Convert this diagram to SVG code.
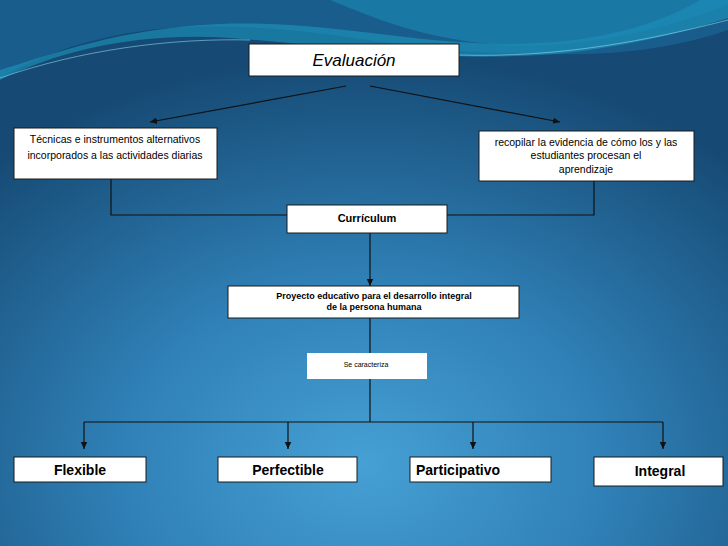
<svg xmlns="http://www.w3.org/2000/svg" width="728" height="546" viewBox="0 0 728 546">
<defs>
<radialGradient id="bg" cx="0.5" cy="0.85" r="0.75">
<stop offset="0" stop-color="#46a0d4"/>
<stop offset="0.45" stop-color="#2f80b6"/>
<stop offset="1" stop-color="#164a74"/>
</radialGradient>
<marker id="ah" markerWidth="8" markerHeight="8" refX="7" refY="4" orient="auto" markerUnits="userSpaceOnUse">
<path d="M0,0.8 L7,4 L0,7.2 Z" fill="#111"/>
</marker>
<style>
.box{fill:#fff;stroke:#1a1a1a;stroke-width:1}
.con{stroke:#111;stroke-width:1.2;fill:none}
.t{font-family:"Liberation Sans",Arial,sans-serif;fill:#000;text-anchor:middle}
.b{font-weight:bold}
</style>
</defs>
<rect width="728" height="546" fill="url(#bg)"/>
<path d="M0,0 H728 V30 C640,60 560,55 480,52 C380,48 300,20 170,28 C90,34 30,60 0,78 Z" fill="#1a5f8f" opacity="0.9"/>
<path d="M0,80 C60,50 140,32 230,38 C330,45 420,62 540,55 C620,50 690,30 728,18 V0 H700 C650,30 580,45 500,44 C400,42 320,20 220,24 C120,28 50,55 0,70 Z" fill="#1d9ec4" opacity="0.55"/>
<path d="M330,0 C380,20 420,38 500,45 C580,50 660,30 728,5 V0 Z" fill="#1b8ab5" opacity="0.6"/>
<path d="M0,78 C80,50 170,38 250,40" stroke="#8fe0f0" stroke-width="0.8" fill="none" opacity="0.7"/>
<path d="M459,55 C560,58 650,40 728,20" stroke="#8fe0f0" stroke-width="0.8" fill="none" opacity="0.7"/>
<g id="connectors">
<line class="con" x1="346" y1="86" x2="150" y2="122" marker-end="url(#ah)"/>
<line class="con" x1="370" y1="86" x2="560" y2="122" marker-end="url(#ah)"/>
<polyline class="con" points="111,179 111,215 287,215"/>
<polyline class="con" points="594,181 594,215 447,215"/>
<line class="con" x1="370" y1="233" x2="370" y2="286" marker-end="url(#ah)"/>
<line class="con" x1="370" y1="318" x2="370" y2="353"/>
<line class="con" x1="370" y1="379" x2="370" y2="422"/>
<line class="con" x1="84" y1="422" x2="663" y2="422"/>
<line class="con" x1="84" y1="422" x2="84" y2="449" marker-end="url(#ah)"/>
<line class="con" x1="288" y1="422" x2="288" y2="449" marker-end="url(#ah)"/>
<line class="con" x1="473" y1="422" x2="473" y2="449" marker-end="url(#ah)"/>
<line class="con" x1="663" y1="422" x2="663" y2="449" marker-end="url(#ah)"/>
</g>
<g id="evaluacion">
<rect class="box" x="249" y="44" width="210" height="32"/>
<text class="t" x="354" y="66" font-size="17" font-style="italic">Evaluación</text>
</g>
<g id="tecnicas">
<rect class="box" x="14" y="128" width="203" height="51"/>
<text class="t" x="115" y="143" font-size="10.5">Técnicas e instrumentos alternativos</text>
<text class="t" x="115" y="159" font-size="10.5">incorporados a las actividades diarias</text>
</g>
<g id="recopilar">
<rect class="box" x="479" y="131" width="215" height="50"/>
<text class="t" x="586" y="146" font-size="10.5">recopilar la evidencia de cómo los y las</text>
<text class="t" x="586" y="159" font-size="10.5">estudiantes procesan el</text>
<text class="t" x="586" y="173" font-size="10.5">aprendizaje</text>
</g>
<g id="curriculum">
<rect class="box" x="287" y="205" width="160" height="28"/>
<text class="t b" x="367" y="222" font-size="11">Currículum</text>
</g>
<g id="proyecto">
<rect class="box" x="228" y="286" width="291" height="32"/>
<text class="t b" x="374" y="299" font-size="9">Proyecto educativo  para el desarrollo integral</text>
<text class="t b" x="374" y="310" font-size="9">de la persona humana</text>
</g>
<g id="secaracteriza">
<rect x="307" y="353" width="120" height="26" fill="#fff"/>
<text class="t" x="366" y="367" font-size="7">Se caracteriza</text>
</g>
<g id="flexible">
<rect class="box" x="14" y="457" width="132" height="25"/>
<text class="t b" x="80" y="475" font-size="14">Flexible</text>
</g>
<g id="perfectible">
<rect class="box" x="218" y="457" width="139" height="25"/>
<text class="t b" x="288" y="475" font-size="14">Perfectible</text>
</g>
<g id="participativo">
<rect class="box" x="410" y="457" width="141" height="25"/>
<text class="t b" x="416" y="475" font-size="14" style="text-anchor:start">Participativo</text>
</g>
<g id="integral">
<rect class="box" x="594" y="457" width="129" height="29"/>
<text class="t b" x="660" y="476" font-size="14">Integral</text>
</g>
</svg>
